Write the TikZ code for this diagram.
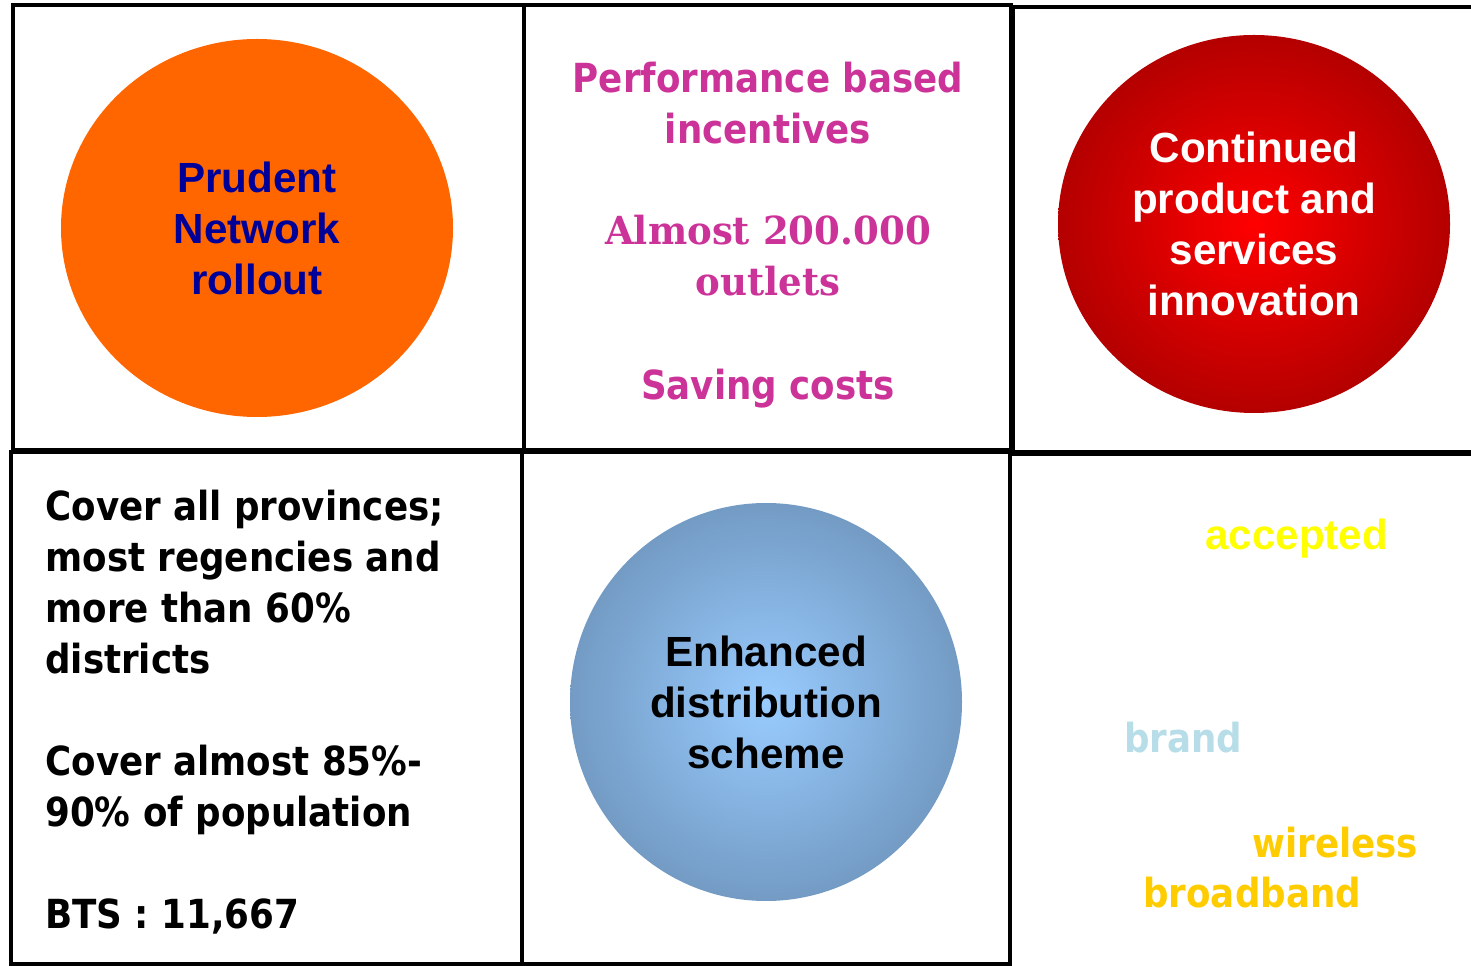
\documentclass[tikz,border=0pt]{standalone}
\usepackage{fontspec}
\setmainfont{Liberation Sans}
\newfontfamily\narrowsans[FakeStretch=0.89]{DejaVu Sans}
\newfontfamily\heavyserif[FakeStretch=0.96]{DejaVu Serif}
\usetikzlibrary{shapes.geometric}
\definecolor{orangefill}{RGB}{255,102,0}
\definecolor{navytext}{RGB}{0,0,153}
\definecolor{redcore}{RGB}{255,0,0}
\definecolor{redrim}{RGB}{180,0,0}
\definecolor{bluecore}{RGB}{153,204,255}
\definecolor{bluerim}{RGB}{115,155,196}
\definecolor{magentatext}{RGB}{204,51,153}
\definecolor{lemon}{RGB}{255,255,0}
\definecolor{paleteal}{RGB}{183,222,232}
\definecolor{gold}{RGB}{255,204,0}
\newcommand{\BigFont}{\fontsize{24}{29}\selectfont}
\newcommand{\NarrowFont}{\narrowsans\bfseries\fontsize{22.8}{29}\selectfont}
\newcommand{\SerifFont}{\heavyserif\bfseries\fontsize{22}{29}\selectfont}
\tikzset{
  gridline/.style={line width=0.8mm, draw=black},
  bubble/.style={ellipse, inner sep=0pt, align=center, font=\bfseries\BigFont,
    minimum width=78.4mm, minimum height=75.6mm},
  plainnote/.style={inner sep=0pt, font=\NarrowFont},
  serifnote/.style={inner sep=0pt, font=\SerifFont, align=center}
}
\begin{document}
\begin{tikzpicture}[x=0.2mm, y=-0.2mm]
  \useasboundingbox (0,0) rectangle (1471,966);
  \clip (0,0) rectangle (1471,966);
  % six panels
  \draw[gridline] (13,5) rectangle (524,450);
  \draw[gridline] (524,5) rectangle (1011,450);
  \draw[gridline] (1013,7) rectangle (1480,452);
  \draw[gridline] (11,452) rectangle (522,964);
  \draw[gridline] (522,452) rectangle (1010,964);
  \draw[gridline] (1010,454) -- (1480,454);
  % bubbles
  \node[bubble, fill=orangefill, text=navytext] (network) at (257,228) {Prudent\\Network\\rollout};
  \node[bubble, shade, inner color=redcore, outer color=redrim, text=white] (innovation) at (1254,224) {Continued\\product and\\services\\innovation};
  \node[bubble, shade, inner color=bluecore, outer color=bluerim, text=black, minimum height=79.6mm] (distribution) at (766,702) {Enhanced\\distribution\\scheme};
  % incentives panel
  \node[plainnote, align=center, text=magentatext, anchor=north] (incentives) at (768,62) {Performance based\\incentives};
  \node[serifnote, text=magentatext, anchor=north] (outlets) at (768,215) {Almost 200.000\\outlets};
  \node[plainnote, text=magentatext, anchor=base] (costs) at (768,400) {Saving costs};
  % coverage panel
  \node[plainnote, align=left, anchor=north west] (coverage) at (45,490)
    {Cover all provinces;\\most regencies and\\more than 60\%\\districts\\[29pt]Cover almost 85\%-\\90\% of population\\[29pt]BTS : 11,667};
  % brand panel
  \node[inner sep=0pt, font=\bfseries\BigFont, text=lemon, anchor=base west] (accepted) at (1205,550) {accepted};
  \node[plainnote, text=paleteal, anchor=base west] (brand) at (1124,753) {brand};
  \node[plainnote, text=gold, anchor=base west] (wireless) at (1252,857) {wireless};
  \node[plainnote, text=gold, anchor=base west] (broadband) at (1143,907) {broadband};
\end{tikzpicture}
\end{document}
